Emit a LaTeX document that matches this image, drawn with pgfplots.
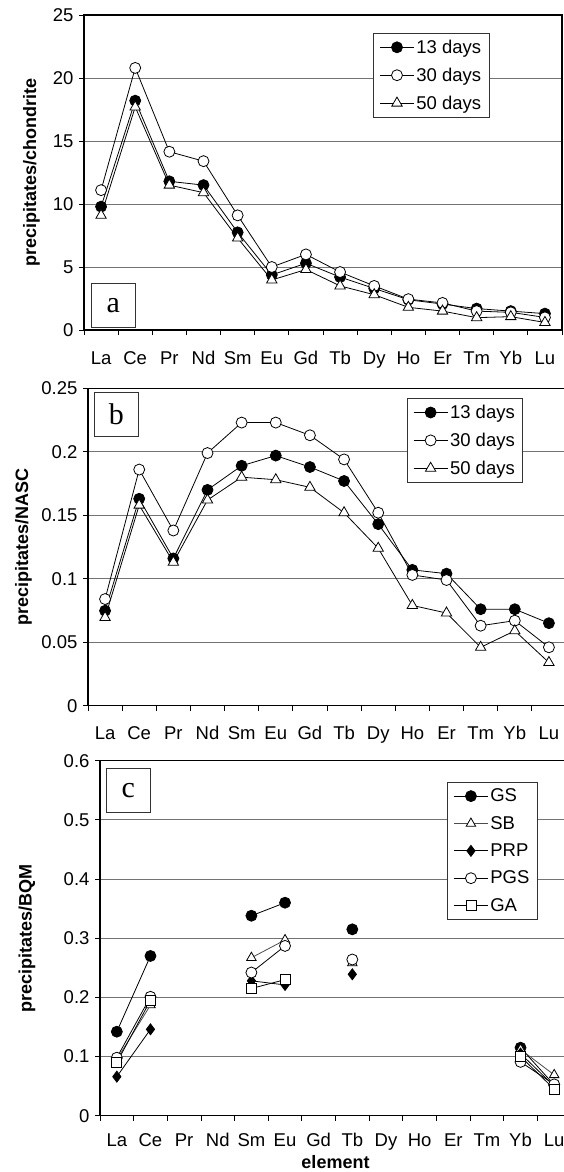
\documentclass[border=0pt]{standalone}
\usepackage{fontspec}
\setmainfont{Liberation Sans}
\newfontfamily\seriffont{Liberation Serif}
\usepackage{pgfplots}
\pgfplotsset{compat=1.18}

\pgfplotsset{
  panel/.style={
    scale only axis,
    xmin=-0.5, xmax=13.5,
    xtick={-0.5,0.5,...,13.5},
    xticklabels={La,Ce,Pr,Nd,Sm,Eu,Gd,Tb,Dy,Ho,Er,Tm,Yb,Lu,{}},
    tick align=outside, tick pos=left, major tick length=5pt,
    tick style={black, line width=0.8pt},
    ymajorgrids, grid style={black!55, line width=1pt},
    axis line style={line width=1.1pt},
    tick label style={font=\fontsize{18.5}{20}\selectfont},
    yticklabel style={xshift=-2pt},
    label style={font=\fontsize{18}{20}\selectfont\bfseries},
    legend style={draw=black!80, fill=white, line width=0.8pt,
      font=\fontsize{18.5}{20}\selectfont, anchor=north west,
      row sep=9pt, inner xsep=6pt, inner ysep=4.5pt,
      cells={anchor=west}},
    legend image code/.code={\draw[mark repeat=2,mark phase=2]
      plot coordinates {(0pt,0pt) (17pt,0pt) (34pt,0pt)};},
    every axis plot/.append style={line width=0.8pt, mark size=5.5pt},
  },
}
\tikzset{
  tag/.style={draw=black!80, line width=0.8pt, fill=white,
    minimum width=44pt, minimum height=44pt, inner sep=0pt,
    font=\seriffont\fontsize{30}{30}\selectfont},
}

\begin{document}
\begin{tikzpicture}
\useasboundingbox (0,0) rectangle (564pt,-1172pt);

% (a) chondrite
\begin{axis}[panel,
  at={(84pt,-330pt)}, anchor=south west,
  width=478pt, height=315pt,
  xticklabel style={xshift=17.07pt, yshift=-12pt, text height=13.5pt, text depth=4pt},
  ymin=0, ymax=25, ytick={0,5,10,15,20,25},
  yticklabels={0,5,10,15,20,25},
  ylabel={precipitates/chondrite},
  ylabel style={at={(axis description cs:-0.11,0.5)}, anchor=center},
  legend style={at={(rel axis cs:0.605,0.943)}},
]
\addplot[black, mark=*, mark options={fill=black}] coordinates {
(0,9.79) (1,18.2) (2,11.8) (3,11.5) (4,7.75) (5,4.37) (6,5.3)
(7,4.2) (8,3.3) (9,2.4) (10,2.06) (11,1.7) (12,1.5) (13,1.3)};
\addlegendentry{13 days}
\addplot[black, mark=*, mark options={fill=white}] coordinates {
(0,11.1) (1,20.8) (2,14.15) (3,13.4) (4,9.1) (5,5.0) (6,6.0)
(7,4.6) (8,3.5) (9,2.45) (10,2.15) (11,1.5) (12,1.4) (13,1.0)};
\addlegendentry{30 days}
\addplot[black, mark=triangle*, mark size=6pt, mark options={fill=white}] coordinates {
(0,9.1) (1,17.7) (2,11.5) (3,10.9) (4,7.3) (5,3.97) (6,4.8)
(7,3.5) (8,2.8) (9,1.8) (10,1.5) (11,0.98) (12,1.06) (13,0.6)};
\addlegendentry{50 days}
\node[tag, anchor=south west] at (rel axis cs:0.0146,0.006) {a};
\end{axis}

% (b) NASC
\begin{axis}[panel,
  at={(88pt,-705.7pt)}, anchor=south west,
  width=478pt, height=317.4pt,
  xticklabel style={xshift=17.07pt, yshift=-12pt, text height=13.5pt, text depth=4pt},
  ymin=0, ymax=0.25, ytick={0,0.05,0.1,0.15,0.2,0.25},
  yticklabels={0,0.05,0.1,0.15,0.2,0.25},
  ylabel={precipitates/NASC},
  ylabel style={at={(axis description cs:-0.135,0.5)}, anchor=center},
  legend style={at={(rel axis cs:0.667,0.969)}},
]
\addplot[black, mark=*, mark options={fill=black}] coordinates {
(0,0.0748) (1,0.163) (2,0.116) (3,0.170) (4,0.189) (5,0.197) (6,0.188)
(7,0.177) (8,0.143) (9,0.107) (10,0.104) (11,0.076) (12,0.076) (13,0.065)};
\addlegendentry{13 days}
\addplot[black, mark=*, mark options={fill=white}] coordinates {
(0,0.084) (1,0.186) (2,0.138) (3,0.199) (4,0.223) (5,0.223) (6,0.213)
(7,0.194) (8,0.152) (9,0.103) (10,0.099) (11,0.063) (12,0.067) (13,0.046)};
\addlegendentry{30 days}
\addplot[black, mark=triangle*, mark size=6pt, mark options={fill=white}] coordinates {
(0,0.0695) (1,0.158) (2,0.113) (3,0.162) (4,0.180) (5,0.178) (6,0.172)
(7,0.152) (8,0.124) (9,0.079) (10,0.073) (11,0.046) (12,0.059) (13,0.034)};
\addlegendentry{50 days}
\node[tag, anchor=north west] at (rel axis cs:0.0126,0.988) {b};
\end{axis}

% (c) BQM
\begin{axis}[panel,
  at={(100pt,-1115.7pt)}, anchor=south west,
  width=471pt, height=355pt,
  xticklabel style={xshift=16.82pt, yshift=-9pt, text height=13.5pt, text depth=4pt},
  ymin=0, ymax=0.6, ytick={0,0.1,0.2,0.3,0.4,0.5,0.6},
  yticklabels={0,0.1,0.2,0.3,0.4,0.5,0.6},
  ylabel={precipitates/BQM},
  ylabel style={at={(axis description cs:-0.155,0.5)}, anchor=center},
  xlabel={element},
  xlabel style={yshift=2pt},
  unbounded coords=jump,
  legend style={at={(rel axis cs:0.737,0.940)}},
]
\addplot[black, mark=*, mark options={fill=black}] coordinates {
(0,0.142) (1,0.270) (2,nan) (3,nan) (4,0.338) (5,0.360) (6,nan)
(7,0.315) (8,nan) (9,nan) (10,nan) (11,nan) (12,0.115) (13,0.052)};
\addlegendentry{GS}
\addplot[black!70, mark=triangle*, mark size=5.5pt, mark options={fill=white, draw=black}] coordinates {
(0,0.095) (1,0.187) (2,nan) (3,nan) (4,0.267) (5,0.297) (6,nan)
(7,0.258) (8,nan) (9,nan) (10,nan) (11,nan) (12,0.112) (13,0.069)};
\addlegendentry{SB}
\addplot[black, mark=diamond*, mark size=5.5pt, mark options={fill=black}] coordinates {
(0,0.066) (1,0.146) (2,nan) (3,nan) (4,0.228) (5,0.221) (6,nan)
(7,0.239) (8,nan) (9,nan) (10,nan) (11,nan) (12,0.105) (13,0.050)};
\addlegendentry{PRP}
\addplot[black, mark=*, mark size=5.5pt, mark options={fill=white}] coordinates {
(0,0.098) (1,0.201) (2,nan) (3,nan) (4,0.242) (5,0.287) (6,nan)
(7,0.264) (8,nan) (9,nan) (10,nan) (11,nan) (12,0.091) (13,0.053)};
\addlegendentry{PGS}
\addplot[black, mark=square*, mark size=5pt, mark options={fill=white}] coordinates {
(0,0.090) (1,0.195) (2,nan) (3,nan) (4,0.215) (5,0.230) (6,nan)
(7,nan) (8,nan) (9,nan) (10,nan) (11,nan) (12,0.100) (13,0.045)};
\addlegendentry{GA}
\node[tag, anchor=north west] at (rel axis cs:0.0127,0.979) {c};
\end{axis}
\end{tikzpicture}
\end{document}
